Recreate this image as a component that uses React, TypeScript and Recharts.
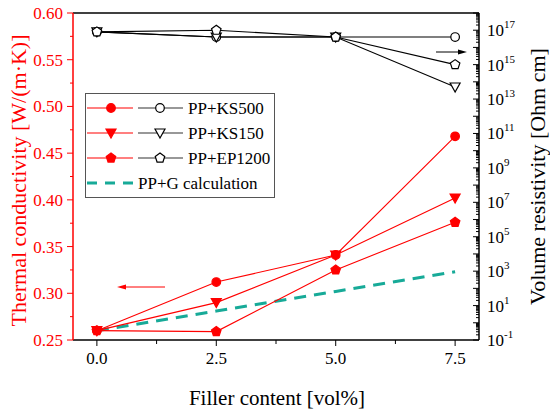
import { ComposedChart, Line, XAxis, YAxis, ReferenceLine, Legend } from "recharts";

const filler = [0, 2.5, 5, 7.5];

// thermal conductivity, W/(m·K)
const tcKS500 = [0.26, 0.312, 0.341, 0.468];
const tcKS150 = [0.26, 0.29, 0.341, 0.402];
const tcEP1200 = [0.26, 0.259, 0.325, 0.376];
const tcCalc = [0.26, 0.281, 0.302, 0.323];

// volume resistivity, Ohm cm
const vrKS500 = [8e16, 4e16, 4e16, 4e16];
const vrKS150 = [8e16, 4e16, 4e16, 5e13];
const vrEP1200 = [8e16, 1e17, 4e16, 1e15];

const xTicks = [0, 1.25, 2.5, 3.75, 5, 6.25, 7.5];
const xLabels = ["0.0", "", "2.5", "", "5.0", "", "7.5"];
const tcTicks = [0.25, 0.275, 0.3, 0.325, 0.35, 0.375, 0.4, 0.425, 0.45, 0.475, 0.5, 0.525, 0.55, 0.575, 0.6];
const tcLabels = ["0.25", "", "0.30", "", "0.35", "", "0.40", "", "0.45", "", "0.50", "", "0.55", "", "0.60"];
const vrExponents = [-1, 1, 3, 5, 7, 9, 11, 13, 15, 17];

const seriesNames = ["PP+KS500", "PP+KS150", "PP+EP1200"];

const RED = "#ff0000";
const TEAL = "#17aa98";
const FONT = "'Liberation Serif', 'Times New Roman', serif";

const data = filler.map((x, i) => ({
  x,
  tc500: tcKS500[i],
  tc150: tcKS150[i],
  tc1200: tcEP1200[i],
  calc: tcCalc[i],
  vr500: vrKS500[i],
  vr150: vrKS150[i],
  vr1200: vrEP1200[i],
}));

// minor ticks of the log axis: 1..9 of every decade
const vrTicks: number[] = [];
for (let e = -1; e < 18; e++) {
  for (let m = 1; m < 10; m++) vrTicks.push(m * Math.pow(10, e));
}
vrTicks.push(1e18);

type Shape = "circle" | "down" | "pentagon";

function marker(shape: Shape, cx: number, cy: number, fill: string, stroke: string, key?: any) {
  if (shape === "circle") {
    return <circle key={key} cx={cx} cy={cy} r={4.3} fill={fill} stroke={stroke} strokeWidth={1.2} />;
  }
  if (shape === "down") {
    const pts = `${cx - 5},${cy - 4} ${cx + 5},${cy - 4} ${cx},${cy + 5}`;
    return <polygon key={key} points={pts} fill={fill} stroke={stroke} strokeWidth={1.2} />;
  }
  const pts = [0, 1, 2, 3, 4]
    .map((k) => {
      const a = ((-90 + 72 * k) * Math.PI) / 180;
      return `${cx + 5 * Math.cos(a)},${cy + 5 * Math.sin(a)}`;
    })
    .join(" ");
  return <polygon key={key} points={pts} fill={fill} stroke={stroke} strokeWidth={1.2} />;
}

const dot = (shape: Shape, fill: string, stroke: string) => (p: any) =>
  marker(shape, p.cx, p.cy, fill, stroke, `${shape}-${p.index}`);

const XTick = (p: any) => {
  const i = xTicks.indexOf(p.payload.value);
  const major = xLabels[i] !== "";
  return (
    <g>
      <line x1={p.x} x2={p.x} y1={p.y} y2={p.y + (major ? 6 : 4)} stroke="#000" />
      {major && (
        <text x={p.x} y={p.y + 24} textAnchor="middle" fontSize={17} fill="#000" style={{ fontFamily: FONT }}>
          {xLabels[i]}
        </text>
      )}
    </g>
  );
};

const TcTick = (p: any) => {
  const i = p.index;
  const label = tcLabels[i];
  const major = label !== "";
  return (
    <g>
      <line x1={p.x - (major ? 6 : 3)} x2={p.x} y1={p.y} y2={p.y} stroke={RED} />
      {major && (
        <text x={p.x - 10} y={p.y + 6} textAnchor="end" fontSize={17} fill={RED} style={{ fontFamily: FONT }}>
          {label}
        </text>
      )}
    </g>
  );
};

const VrTick = (p: any) => {
  const v = p.payload.value;
  const e = Math.log10(v);
  const decade = Math.abs(e - Math.round(e)) < 1e-6;
  const labelled = decade && vrExponents.includes(Math.round(e));
  return (
    <g>
      <line x1={p.x - (decade ? 6 : 3)} x2={p.x} y1={p.y} y2={p.y} stroke="#000" />
      {labelled && (
        <text x={p.x + 8} y={p.y + 6} fontSize={17} fill="#000" style={{ fontFamily: FONT }}>
          10
          <tspan dy={-8} fontSize={11}>
            {Math.round(e)}
          </tspan>
        </text>
      )}
    </g>
  );
};

const title = (text: string, color: string, dx: number, dy: number, vertical: boolean, size: number) =>
  (p: any) => {
    const vb = p.viewBox;
    const cx = vb.x + vb.width / 2 + dx;
    const cy = vb.y + vb.height / 2 + dy;
    return (
      <text
        transform={`translate(${cx},${cy})${vertical ? " rotate(-90)" : ""}`}
        textAnchor="middle"
        dominantBaseline="central"
        fontSize={size}
        fill={color}
        style={{ fontFamily: FONT }}
      >
        {text}
      </text>
    );
  };

const shapes: Shape[] = ["circle", "down", "pentagon"];

const LegendBox = () => (
  <svg width={190} height={105} style={{ display: "block", fontFamily: FONT }}>
    <rect x={0.5} y={0.5} width={189} height={104} fill="#fff" stroke="#555" strokeWidth={1} />
    {seriesNames.map((name, i) => {
      const y = 15 + i * 25;
      return (
        <g key={name}>
          <line x1={2} x2={48} y1={y} y2={y} stroke={RED} strokeWidth={1.2} />
          {marker(shapes[i], 26, y, RED, RED)}
          <line x1={53} x2={98} y1={y} y2={y} stroke="#333" strokeWidth={1.2} />
          {marker(shapes[i], 75, y, "#fff", "#000")}
          <text x={103} y={y + 6} fontSize={17} fill="#000" style={{ fontFamily: FONT }}>
            {name}
          </text>
        </g>
      );
    })}
    <line x1={2} x2={55} y1={90} y2={90} stroke={TEAL} strokeWidth={3} strokeDasharray="10 8" />
    <text x={53} y={96} fontSize={17} fill="#000" style={{ fontFamily: FONT }}>
      PP+G calculation
    </text>
  </svg>
);

export default function App() {
  return (
    <div style={{ position: "absolute", left: 0, top: 0, width: 550, height: 412, background: "#fff", fontFamily: FONT }}>
      <ComposedChart width={550} height={412} data={data} margin={{ top: 13, right: 11, bottom: 32, left: 23 }}>
        <XAxis
          dataKey="x"
          type="number"
          domain={[-0.5, 8]}
          ticks={xTicks}
          interval={0}
          tickSize={0}
          tickMargin={0}
          tick={XTick}
          height={40}
          axisLine={{ stroke: "#000", strokeWidth: 1.5 }}
          tickLine={false}
          label={{ content: title("Filler content [vol%]", "#000", 1, 38, false, 21) }}
        />
        <YAxis
          yAxisId="tc"
          orientation="left"
          domain={[0.25, 0.6]}
          ticks={tcTicks}
          interval={0}
          tickSize={0}
          tickMargin={0}
          tick={TcTick}
          width={50}
          axisLine={{ stroke: RED, strokeWidth: 1.5 }}
          tickLine={false}
          label={{ content: title("Thermal conductivity [W/(m·K)]", RED, -30, 4, true, 22) }}
        />
        <YAxis
          yAxisId="vr"
          orientation="right"
          scale="log"
          domain={[0.1, 1e18]}
          allowDataOverflow
          ticks={vrTicks}
          interval={0}
          tickSize={0}
          tickMargin={0}
          tick={VrTick}
          width={60}
          axisLine={{ stroke: "#000", strokeWidth: 1.5 }}
          tickLine={false}
          label={{ content: title("Volume resistivity [Ohm cm]", "#000", 28, 0, true, 22) }}
        />
        <ReferenceLine yAxisId="tc" y={0.6} stroke="#000" strokeWidth={1.5} />

        <Line yAxisId="vr" dataKey="vr500" stroke="#000" strokeWidth={1.1} dot={dot("circle", "#fff", "#000")} isAnimationActive={false} />
        <Line yAxisId="vr" dataKey="vr150" stroke="#000" strokeWidth={1.1} dot={dot("down", "#fff", "#000")} isAnimationActive={false} />
        <Line yAxisId="vr" dataKey="vr1200" stroke="#000" strokeWidth={1.1} dot={dot("pentagon", "#fff", "#000")} isAnimationActive={false} />

        <Line yAxisId="tc" dataKey="calc" stroke={TEAL} strokeWidth={3} strokeDasharray="12 8" dot={false} isAnimationActive={false} />
        <Line yAxisId="tc" dataKey="tc500" stroke={RED} strokeWidth={1.1} dot={dot("circle", RED, RED)} isAnimationActive={false} />
        <Line yAxisId="tc" dataKey="tc150" stroke={RED} strokeWidth={1.1} dot={dot("down", RED, RED)} isAnimationActive={false} />
        <Line yAxisId="tc" dataKey="tc1200" stroke={RED} strokeWidth={1.1} dot={dot("pentagon", RED, RED)} isAnimationActive={false} />

        <Legend
          content={LegendBox}
          wrapperStyle={{ position: "absolute", left: 85, top: 93, width: 190, height: 105 }}
          layout="horizontal"
          verticalAlign="middle"
          align="center"
        />
      </ComposedChart>
      <svg width={550} height={412} style={{ position: "absolute", left: 0, top: 0, pointerEvents: "none" }}>
        <line x1={165} x2={124} y1={287} y2={287} stroke={RED} strokeWidth={1} />
        <polygon points="117,287 126,284.5 126,289.5" fill={RED} />
        <line x1={436} x2={460} y1={52} y2={52} stroke="#000" strokeWidth={1} />
        <polygon points="467,52 458,49.5 458,54.5" fill="#000" />
      </svg>
    </div>
  );
}
